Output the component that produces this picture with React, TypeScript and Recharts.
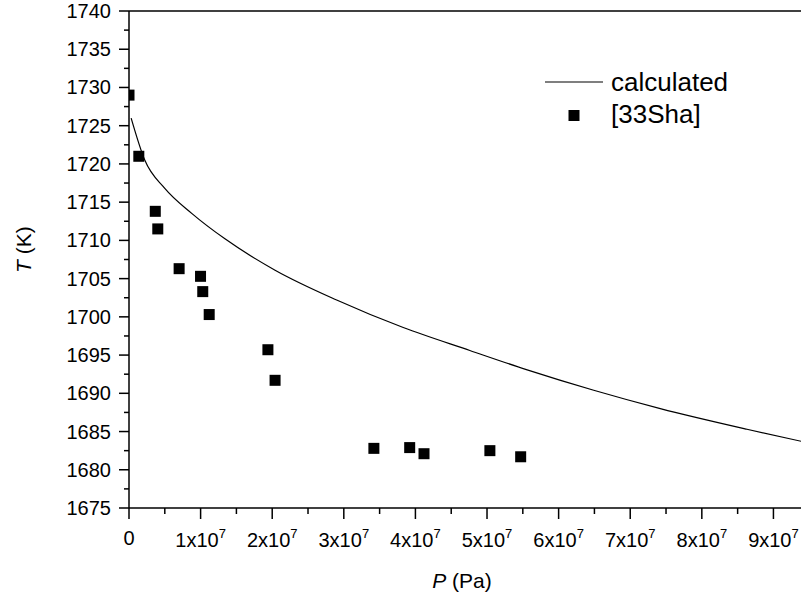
import React from 'react';
import { ComposedChart, Line, Scatter, XAxis, YAxis, ReferenceLine, Legend, Label } from 'recharts';

const FONT = '"Liberation Sans", Arial, Helvetica, sans-serif';

// pressure in units of 1e7 Pa, temperature in K
const calcP = [0.03, 0.22, 0.5, 0.88, 1.34, 2.04, 2.9, 3.83, 4.76, 5.55, 6.49, 7.42, 8.63, 9.4];
const calcT = [1726.0, 1720.5, 1716.8, 1713.5, 1710.2, 1706.1, 1702.2, 1698.6, 1695.6, 1693.1, 1690.4, 1688.0, 1685.3, 1683.7];

// [33Sha] measurements
const expP = [0, 0.137, 0.367, 0.402, 0.7, 0.999, 1.03, 1.12, 1.94, 2.04, 3.42, 3.92, 4.12, 5.04, 5.47];
const expT = [1729.0, 1721.0, 1713.8, 1711.5, 1706.3, 1705.3, 1703.3, 1700.3, 1695.7, 1691.7, 1682.8, 1682.9, 1682.1, 1682.5, 1681.7];

const xMajor = [0, 1, 2, 3, 4, 5, 6, 7, 8, 9];
const yMajor = [1675, 1680, 1685, 1690, 1695, 1700, 1705, 1710, 1715, 1720, 1725, 1730, 1735, 1740];
const X_MAX = 9.385;

const xTicks = xMajor.flatMap((v) => [v, v + 0.5]).filter((v) => v <= X_MAX);
const yTicks = yMajor.flatMap((v) => [v, v + 2.5]).filter((v) => v <= 1740);

const calcData = calcP.map((P, i) => ({ P, T: calcT[i] }));
const expData = expP.map((P, i) => ({ P, T: expT[i] }));

const XTick = ({ x, y, payload }: any) => {
  const v = payload.value;
  const major = Number.isInteger(v);
  return (
    <g>
      <line x1={x} y1={y} x2={x} y2={y + (major ? 11 : 6)} stroke="#000" strokeWidth={1.5} />
      {major && (
        <text x={x} y={y + (v === 0 ? 37 : 39)} textAnchor="middle" fontSize={20} fontFamily={FONT} fill="#000">
          {v === 0 ? (
            '0'
          ) : (
            <>
              <tspan>{`${v}x10`}</tspan>
              <tspan dy={-9} fontSize={13}>7</tspan>
            </>
          )}
        </text>
      )}
    </g>
  );
};

const YTick = ({ x, y, payload }: any) => {
  const v = payload.value;
  const major = v % 5 === 0;
  return (
    <g>
      <line x1={x - (major ? 10 : 5)} y1={y} x2={x} y2={y} stroke="#000" strokeWidth={1.5} />
      {major && (
        <text x={x - 18} y={y} dy="0.35em" textAnchor="end" fontSize={20} fontFamily={FONT} fill="#000">
          {v}
        </text>
      )}
    </g>
  );
};

const Square = ({ cx, cy }: any) => <rect x={cx - 5.5} y={cy - 5.5} width={11} height={11} fill="#000" />;

const renderLegend = () => (
  <svg width={200} height={75} style={{ display: 'block' }}>
    <line x1={0} y1={20} x2={58} y2={20} stroke="#000" strokeWidth={1.2} />
    <text x={66} y={29} fontSize={26} fontFamily={FONT} fill="#000">calculated</text>
    <rect x={23.5} y={48} width={11} height={11} fill="#000" />
    <text x={66} y={61} fontSize={26} fontFamily={FONT} fill="#000">[33Sha]</text>
  </svg>
);

export default function App() {
  return (
    <div style={{ position: 'absolute', left: 0, top: 0 }}>
      <ComposedChart width={801} height={596} margin={{ top: 11, right: 0, bottom: 0, left: 0 }}>
        <XAxis
          type="number"
          dataKey="P"
          domain={[0, X_MAX]}
          ticks={xTicks}
          interval={0}
          allowDataOverflow
          height={88}
          stroke="#000"
          strokeWidth={1.5}
          tickLine={false}
          tickSize={0}
          tickMargin={0}
          tick={<XTick />}
        >
          <Label
            content={() => (
              <text x={462} y={588} textAnchor="middle" fontSize={21} fontFamily={FONT} fill="#000">
                <tspan fontStyle="italic">P</tspan>
                {' (Pa)'}
              </text>
            )}
          />
        </XAxis>
        <YAxis
          type="number"
          dataKey="T"
          domain={[1675, 1740]}
          ticks={yTicks}
          interval={0}
          allowDataOverflow
          width={129}
          stroke="#000"
          strokeWidth={1.5}
          tickLine={false}
          tickSize={0}
          tickMargin={0}
          tick={<YTick />}
        >
          <Label
            content={() => (
              <text x={31} y={273} transform="rotate(-90 31 273)" textAnchor="start" fontSize={21} fontFamily={FONT} fill="#000">
                <tspan fontStyle="italic">T</tspan>
                {' (K)'}
              </text>
            )}
          />
        </YAxis>
        <ReferenceLine y={1740} stroke="#000" strokeWidth={1.5} />
        <Legend
          layout="vertical"
          align="center"
          verticalAlign="middle"
          content={renderLegend}
          wrapperStyle={{ position: 'absolute', left: 545, top: 62, width: 200, height: 75 }}
        />
        <Line
          data={calcData}
          dataKey="T"
          type="monotone"
          stroke="#000"
          strokeWidth={1.2}
          dot={false}
          activeDot={false}
          isAnimationActive={false}
        />
        <Scatter data={expData} dataKey="T" fill="#000" shape={<Square />} isAnimationActive={false} />
      </ComposedChart>
    </div>
  );
}
